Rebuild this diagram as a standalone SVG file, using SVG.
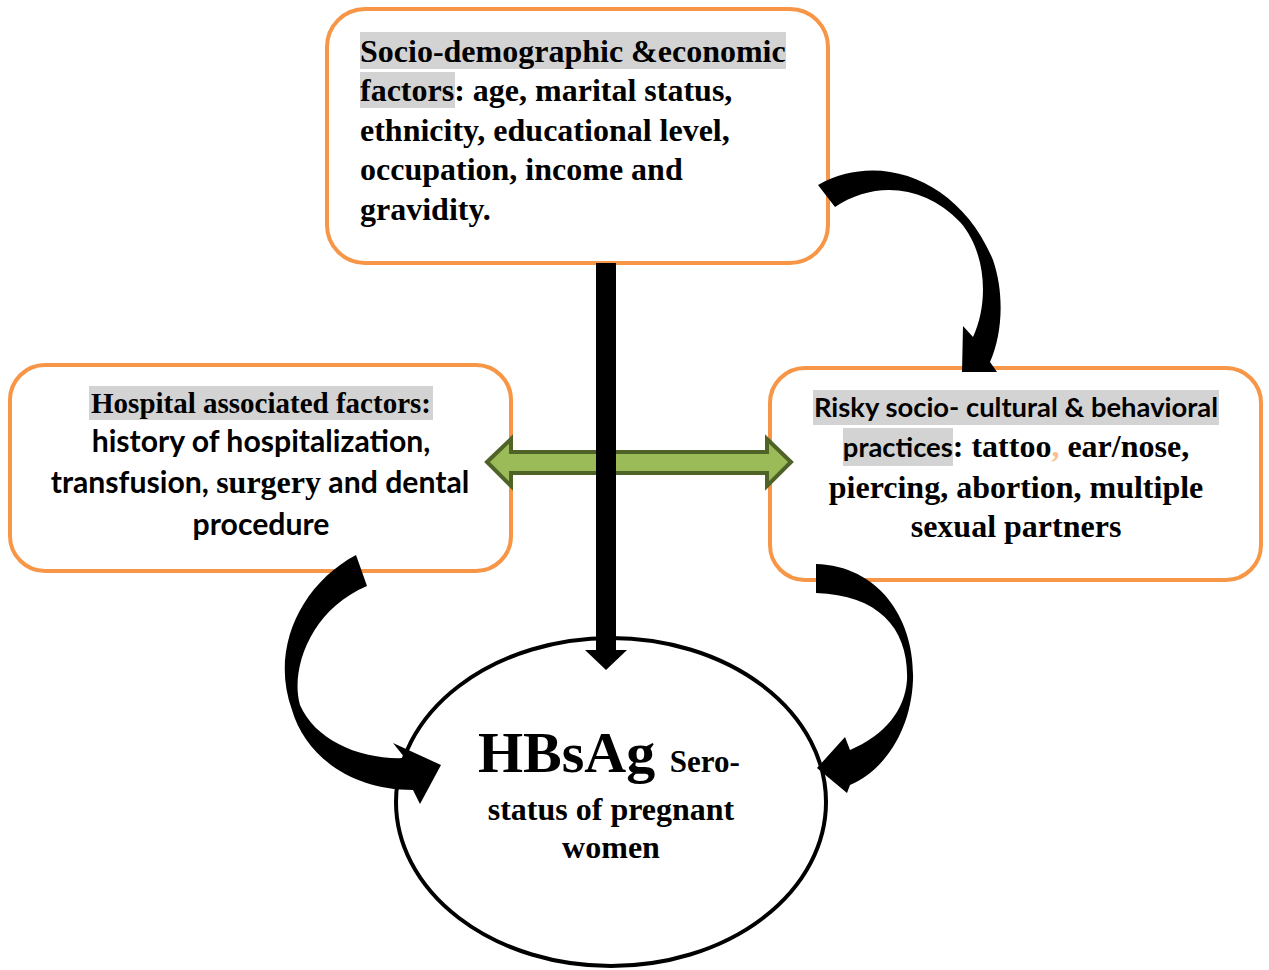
<svg xmlns="http://www.w3.org/2000/svg" width="1269" height="970" viewBox="0 0 1269 970">
<style>
.box{fill:#fff;stroke:#F79646;stroke-width:4}
.hl{fill:#D3D3D3}
.serif{font-family:"Liberation Serif","Times New Roman",serif;font-weight:bold;fill:#000}
.sans{font-family:Lato,"Open Sans",sans-serif;font-weight:bold;fill:#000}
.blk{fill:#000;stroke:none}
</style>
<rect width="1269" height="970" fill="#fff"/>
<g id="node-socio">
<rect class="box" x="327" y="9" width="501" height="254" rx="38"/>
<rect class="hl" x="360" y="32" width="426" height="37"/>
<rect class="hl" x="360" y="72" width="95" height="36"/>
<text class="serif" font-size="32" x="360" y="62">Socio-demographic &amp;economic</text>
<text class="serif" font-size="32" x="360" y="101">factors: age, marital status,</text>
<text class="serif" font-size="32" x="360" y="141">ethnicity, educational level,</text>
<text class="serif" font-size="32" x="360" y="180">occupation, income and</text>
<text class="serif" font-size="32" x="360" y="220">gravidity.</text>
</g>
<g id="node-hospital">
<rect class="box" x="10" y="365" width="501" height="206" rx="35"/>
<rect class="hl" x="89" y="386" width="344" height="34"/>
<text class="serif" font-size="29" x="261" y="413" text-anchor="middle">Hospital associated factors:</text>
<text class="sans" font-size="30.2" x="261" y="452" text-anchor="middle">history of hospitalization,</text>
<text x="260" y="493" text-anchor="middle"><tspan class="sans" font-size="30.2">transfusion, </tspan><tspan class="serif" font-size="32">surgery</tspan><tspan class="sans" font-size="30.2"> and dental</tspan></text>
<text class="sans" font-size="30.2" x="261" y="535" text-anchor="middle">procedure</text>
</g>
<g id="node-risky">
<rect class="box" x="770" y="368" width="491" height="212" rx="35"/>
<rect class="hl" x="813" y="390" width="406" height="35"/>
<rect class="hl" x="843" y="428" width="110" height="38"/>
<text class="sans" font-size="27.4" x="1016" y="417" text-anchor="middle">Risky socio- cultural &amp; behavioral</text>
<text x="1016" y="457" text-anchor="middle"><tspan class="sans" font-size="27.4">practices</tspan><tspan class="serif" font-size="32">: tattoo</tspan><tspan class="serif" font-size="32" style="fill:#FAC08F">,</tspan><tspan class="serif" font-size="32"> ear/nose,</tspan></text>
<text class="serif" font-size="32" x="1016" y="498" text-anchor="middle">piercing, abortion, multiple</text>
<text class="serif" font-size="32" x="1016" y="537" text-anchor="middle">sexual partners</text>
</g>
<g id="node-hbsag">
<ellipse cx="611" cy="802" rx="215" ry="164" fill="#fff" stroke="#000" stroke-width="4"/>
<text class="serif" x="478" y="772"><tspan font-size="58">HBsAg </tspan><tspan font-size="31">Sero-</tspan></text>
<text class="serif" font-size="32" x="611" y="820" text-anchor="middle">status of pregnant</text>
<text class="serif" font-size="32" x="611" y="858" text-anchor="middle">women</text>
</g>
<g id="connectors">
<polygon points="487,462 511,439 511,452 767,452 767,439 791,462 767,486 767,473 511,473 511,486" fill="#9BBB59" stroke="#4F6228" stroke-width="4" stroke-linejoin="miter"/>
<rect class="blk" x="596" y="263" width="20" height="388"/>
<polygon class="blk" points="585,650 627,650 606,670"/>
<path class="blk" d="M818,185 C880,150 960,180 993,260 C1005,295 1002,335 990,362 L997,372 L962,372 L963,326 L973,337 C990,300 985,250 960,222 C925,185 875,180 835,207 Z"/>
<path class="blk" d="M356,555 C300,585 270,650 292,710 C305,755 350,790 413,790 L420,804 L441,765 L393,743 L405,758 C360,760 315,740 300,705 C290,670 310,610 367,586 Z"/>
<path class="blk" d="M816,564 C880,566 915,620 913,680 C911,730 885,770 850,785 L847,793 L817,768 L845,737 L850,750 C885,735 905,710 907,680 C909,630 880,595 816,593 Z"/>
</g>
</svg>
